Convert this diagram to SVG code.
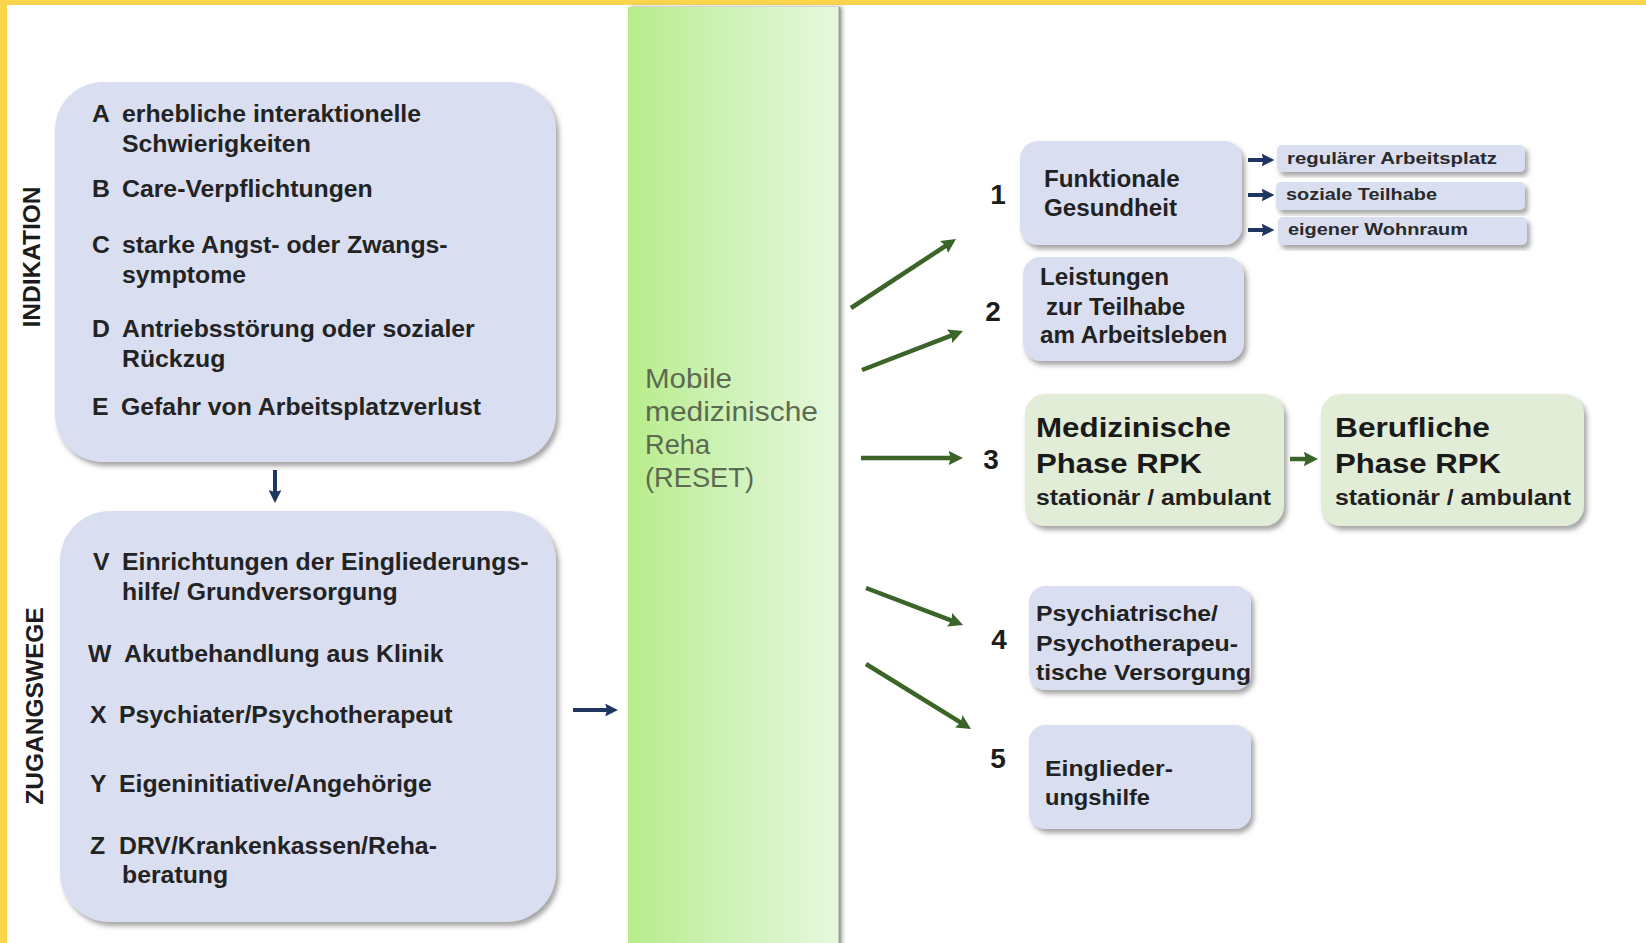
<svg xmlns="http://www.w3.org/2000/svg" width="1646" height="943" viewBox="0 0 1646 943">
<defs>
<style>
.lt{font-family:"Liberation Sans",Arial,sans-serif;font-weight:bold;font-size:24.8px;fill:#232323}
.vt{font-family:"Liberation Sans",Arial,sans-serif;font-weight:bold;font-size:24.5px;fill:#1c1c1c}
.rt{font-family:"Liberation Sans",Arial,sans-serif;font-weight:bold;font-size:24.2px;fill:#222}
.nt{font-family:"Liberation Sans",Arial,sans-serif;font-weight:bold;font-size:28px;fill:#1c1c1c;text-anchor:middle}
.st{font-family:"Liberation Sans",Arial,sans-serif;font-weight:bold;font-size:16.5px;fill:#2a2a2a}
.big{font-family:"Liberation Sans",Arial,sans-serif;font-weight:bold;font-size:28.5px;fill:#1a1a1a}
.sub{font-family:"Liberation Sans",Arial,sans-serif;font-weight:bold;font-size:22.5px;fill:#1f1f1f}
.nar{font-family:"Liberation Sans",Arial,sans-serif;font-weight:bold;font-size:22px;fill:#222}
.mob{font-family:"Liberation Sans",Arial,sans-serif;font-size:28px;fill:#5d6a52}
.lav{fill:#d9dff1}
.grn{fill:#e2edd7}
.ga{stroke:#3a6428;stroke-width:4.5;fill:none}
.na{stroke:#1f3660;stroke-width:4;fill:none}
</style>
<filter id="sh" x="-10%" y="-10%" width="125%" height="130%">
<feDropShadow dx="3" dy="4" stdDeviation="2.5" flood-color="#5a5a5a" flood-opacity="0.55"/>
</filter>
<filter id="shc" x="-10%" y="-2%" width="125%" height="104%">
<feDropShadow dx="3" dy="0" stdDeviation="2" flood-color="#555" flood-opacity="0.6"/>
</filter>
<linearGradient id="cg" x1="0" y1="0" x2="1" y2="0">
<stop offset="0" stop-color="#b8ec8a"/>
<stop offset="0.45" stop-color="#cdf2b5"/>
<stop offset="1" stop-color="#e6f8dd"/>
</linearGradient>
<marker id="mg" viewBox="0 0 10 10" refX="5" refY="5" markerWidth="3.2" markerHeight="3.2" orient="auto" markerUnits="strokeWidth">
<path d="M0,0 L10,5 L0,10 L1.5,5 z" fill="#3a6428"/>
</marker>
<marker id="mn" viewBox="0 0 10 10" refX="5" refY="5" markerWidth="3.2" markerHeight="3.2" orient="auto" markerUnits="strokeWidth">
<path d="M0,0 L10,5 L0,10 L1.5,5 z" fill="#1f3660"/>
</marker>
</defs>

<rect x="0" y="0" width="1646" height="943" fill="#ffffff"/>
<rect x="0" y="0" width="1646" height="5" fill="#fbd64c"/>
<rect x="0" y="0" width="7" height="943" fill="#fbd64c"/>

<g id="reset-column">
<rect x="628" y="7" width="211" height="940" fill="url(#cg)" filter="url(#shc)"/>
<line x1="839.5" y1="7" x2="839.5" y2="943" stroke="#9aa096" stroke-width="2"/>
<text class="mob" x="645" y="388" textLength="87" lengthAdjust="spacingAndGlyphs">Mobile</text>
<text class="mob" x="645" y="421" textLength="173" lengthAdjust="spacingAndGlyphs">medizinische</text>
<text class="mob" x="645" y="454" textLength="65" lengthAdjust="spacingAndGlyphs">Reha</text>
<text class="mob" x="645" y="487" textLength="109" lengthAdjust="spacingAndGlyphs">(RESET)</text>
</g>

<g id="indikation">
<rect class="lav" x="55" y="82" width="501" height="380" rx="48" filter="url(#sh)"/>
<text class="vt" transform="translate(40,257) rotate(-90)" text-anchor="middle">INDIKATION</text>
<text class="lt" x="92" y="122">A</text><text class="lt" x="122" y="122">erhebliche interaktionelle</text>
<text class="lt" x="122" y="152">Schwierigkeiten</text>
<text class="lt" x="92" y="197">B</text><text class="lt" x="122" y="197">Care-Verpflichtungen</text>
<text class="lt" x="92" y="253">C</text><text class="lt" x="122" y="253">starke Angst- oder Zwangs-</text>
<text class="lt" x="122" y="283">symptome</text>
<text class="lt" x="92" y="337">D</text><text class="lt" x="122" y="337">Antriebsstörung oder sozialer</text>
<text class="lt" x="122" y="367">Rückzug</text>
<text class="lt" x="92" y="415">E</text><text class="lt" x="121" y="415">Gefahr von Arbeitsplatzverlust</text>
</g>

<g id="zugangswege">
<rect class="lav" x="60" y="511" width="496" height="411" rx="50" filter="url(#sh)"/>
<text class="vt" transform="translate(43,706) rotate(-90)" text-anchor="middle">ZUGANGSWEGE</text>
<text class="lt" x="93" y="570">V</text><text class="lt" x="122" y="570">Einrichtungen der Eingliederungs-</text>
<text class="lt" x="122" y="600">hilfe/ Grundversorgung</text>
<text class="lt" x="88" y="662">W</text><text class="lt" x="124" y="662">Akutbehandlung aus Klinik</text>
<text class="lt" x="90" y="723">X</text><text class="lt" x="119" y="723">Psychiater/Psychotherapeut</text>
<text class="lt" x="90" y="792">Y</text><text class="lt" x="119" y="792">Eigeninitiative/Angehörige</text>
<text class="lt" x="90" y="854">Z</text><text class="lt" x="119" y="854">DRV/Krankenkassen/Reha-</text>
<text class="lt" x="122" y="883">beratung</text>
</g>

<g id="n1-funktionale-gesundheit">
<rect class="lav" x="1020" y="141" width="222" height="104" rx="18" filter="url(#sh)"/>
<text class="rt" x="1044" y="187">Funktionale</text>
<text class="rt" x="1044" y="216">Gesundheit</text>
</g>
<g id="s1-arbeitsplatz">
<rect class="lav" x="1277" y="145" width="248" height="27" rx="5" filter="url(#sh)"/>
<text class="st" x="1287" y="164" textLength="210" lengthAdjust="spacingAndGlyphs">regulärer Arbeitsplatz</text>
</g>
<g id="s2-teilhabe">
<rect class="lav" x="1276" y="182" width="249" height="28" rx="5" filter="url(#sh)"/>
<text class="st" x="1286" y="200" textLength="151" lengthAdjust="spacingAndGlyphs">soziale Teilhabe</text>
</g>
<g id="s3-wohnraum">
<rect class="lav" x="1278" y="217" width="249" height="28" rx="5" filter="url(#sh)"/>
<text class="st" x="1288" y="235" textLength="180" lengthAdjust="spacingAndGlyphs">eigener Wohnraum</text>
</g>

<g id="n2-leistungen">
<rect class="lav" x="1023" y="257" width="221" height="104" rx="18" filter="url(#sh)"/>
<text class="rt" x="1040" y="285">Leistungen</text>
<text class="rt" x="1046" y="315">zur Teilhabe</text>
<text class="rt" x="1040" y="343">am Arbeitsleben</text>
</g>

<g id="n3a-medizinische-phase">
<rect class="grn" x="1025" y="394" width="259" height="132" rx="20" filter="url(#sh)"/>
<text class="big" x="1036" y="437" textLength="195" lengthAdjust="spacingAndGlyphs">Medizinische</text>
<text class="big" x="1036" y="473" textLength="166" lengthAdjust="spacingAndGlyphs">Phase RPK</text>
<text class="sub" x="1036" y="505" textLength="235" lengthAdjust="spacingAndGlyphs">stationär / ambulant</text>
</g>

<g id="n3b-berufliche-phase">
<rect class="grn" x="1321" y="394" width="263" height="132" rx="20" filter="url(#sh)"/>
<text class="big" x="1335" y="437" textLength="155" lengthAdjust="spacingAndGlyphs">Berufliche</text>
<text class="big" x="1335" y="473" textLength="166" lengthAdjust="spacingAndGlyphs">Phase RPK</text>
<text class="sub" x="1335" y="505" textLength="236" lengthAdjust="spacingAndGlyphs">stationär / ambulant</text>
</g>

<g id="n4-psychiatrische-versorgung">
<rect class="lav" x="1029" y="586" width="222" height="104" rx="16" filter="url(#sh)"/>
<text class="nar" x="1036" y="621" textLength="182" lengthAdjust="spacingAndGlyphs">Psychiatrische/</text>
<text class="nar" x="1036" y="651" textLength="202" lengthAdjust="spacingAndGlyphs">Psychotherapeu-</text>
<text class="nar" x="1036" y="680" textLength="215" lengthAdjust="spacingAndGlyphs">tische Versorgung</text>
</g>

<g id="n5-eingliederungshilfe">
<rect class="lav" x="1029" y="725" width="222" height="104" rx="16" filter="url(#sh)"/>
<text class="nar" x="1045" y="776" textLength="128" lengthAdjust="spacingAndGlyphs">Einglieder-</text>
<text class="nar" x="1045" y="805" textLength="105" lengthAdjust="spacingAndGlyphs">ungshilfe</text>
</g>

<g id="numbers">
<text class="nt" x="998" y="204">1</text>
<text class="nt" x="993" y="321">2</text>
<text class="nt" x="991" y="469">3</text>
<text class="nt" x="999" y="649">4</text>
<text class="nt" x="998" y="768">5</text>
</g>

<g id="connectors">
<line class="na" x1="275" y1="470" x2="275" y2="496.6" marker-end="url(#mn)"/>
<line class="na" x1="573" y1="710" x2="611.6" y2="710" marker-end="url(#mn)"/>
<line class="ga" x1="851" y1="308" x2="950" y2="243" marker-end="url(#mg)"/>
<line class="ga" x1="862" y1="370" x2="956.3" y2="333.6" marker-end="url(#mg)"/>
<line class="ga" x1="861" y1="458" x2="955.8" y2="458" marker-end="url(#mg)"/>
<line class="ga" x1="866" y1="588" x2="956.3" y2="622.4" marker-end="url(#mg)"/>
<line class="ga" x1="866" y1="664" x2="964.9" y2="725.2" marker-end="url(#mg)"/>
<line class="ga" x1="1290" y1="459" x2="1311" y2="459" stroke-width="3.5" marker-end="url(#mg)"/>
<line class="na" x1="1248" y1="160" x2="1268" y2="160" stroke-width="3.5" marker-end="url(#mn)"/>
<line class="na" x1="1248" y1="195" x2="1268" y2="195" stroke-width="3.5" marker-end="url(#mn)"/>
<line class="na" x1="1248" y1="230" x2="1268" y2="230" stroke-width="3.5" marker-end="url(#mn)"/>
</g>
</svg>
